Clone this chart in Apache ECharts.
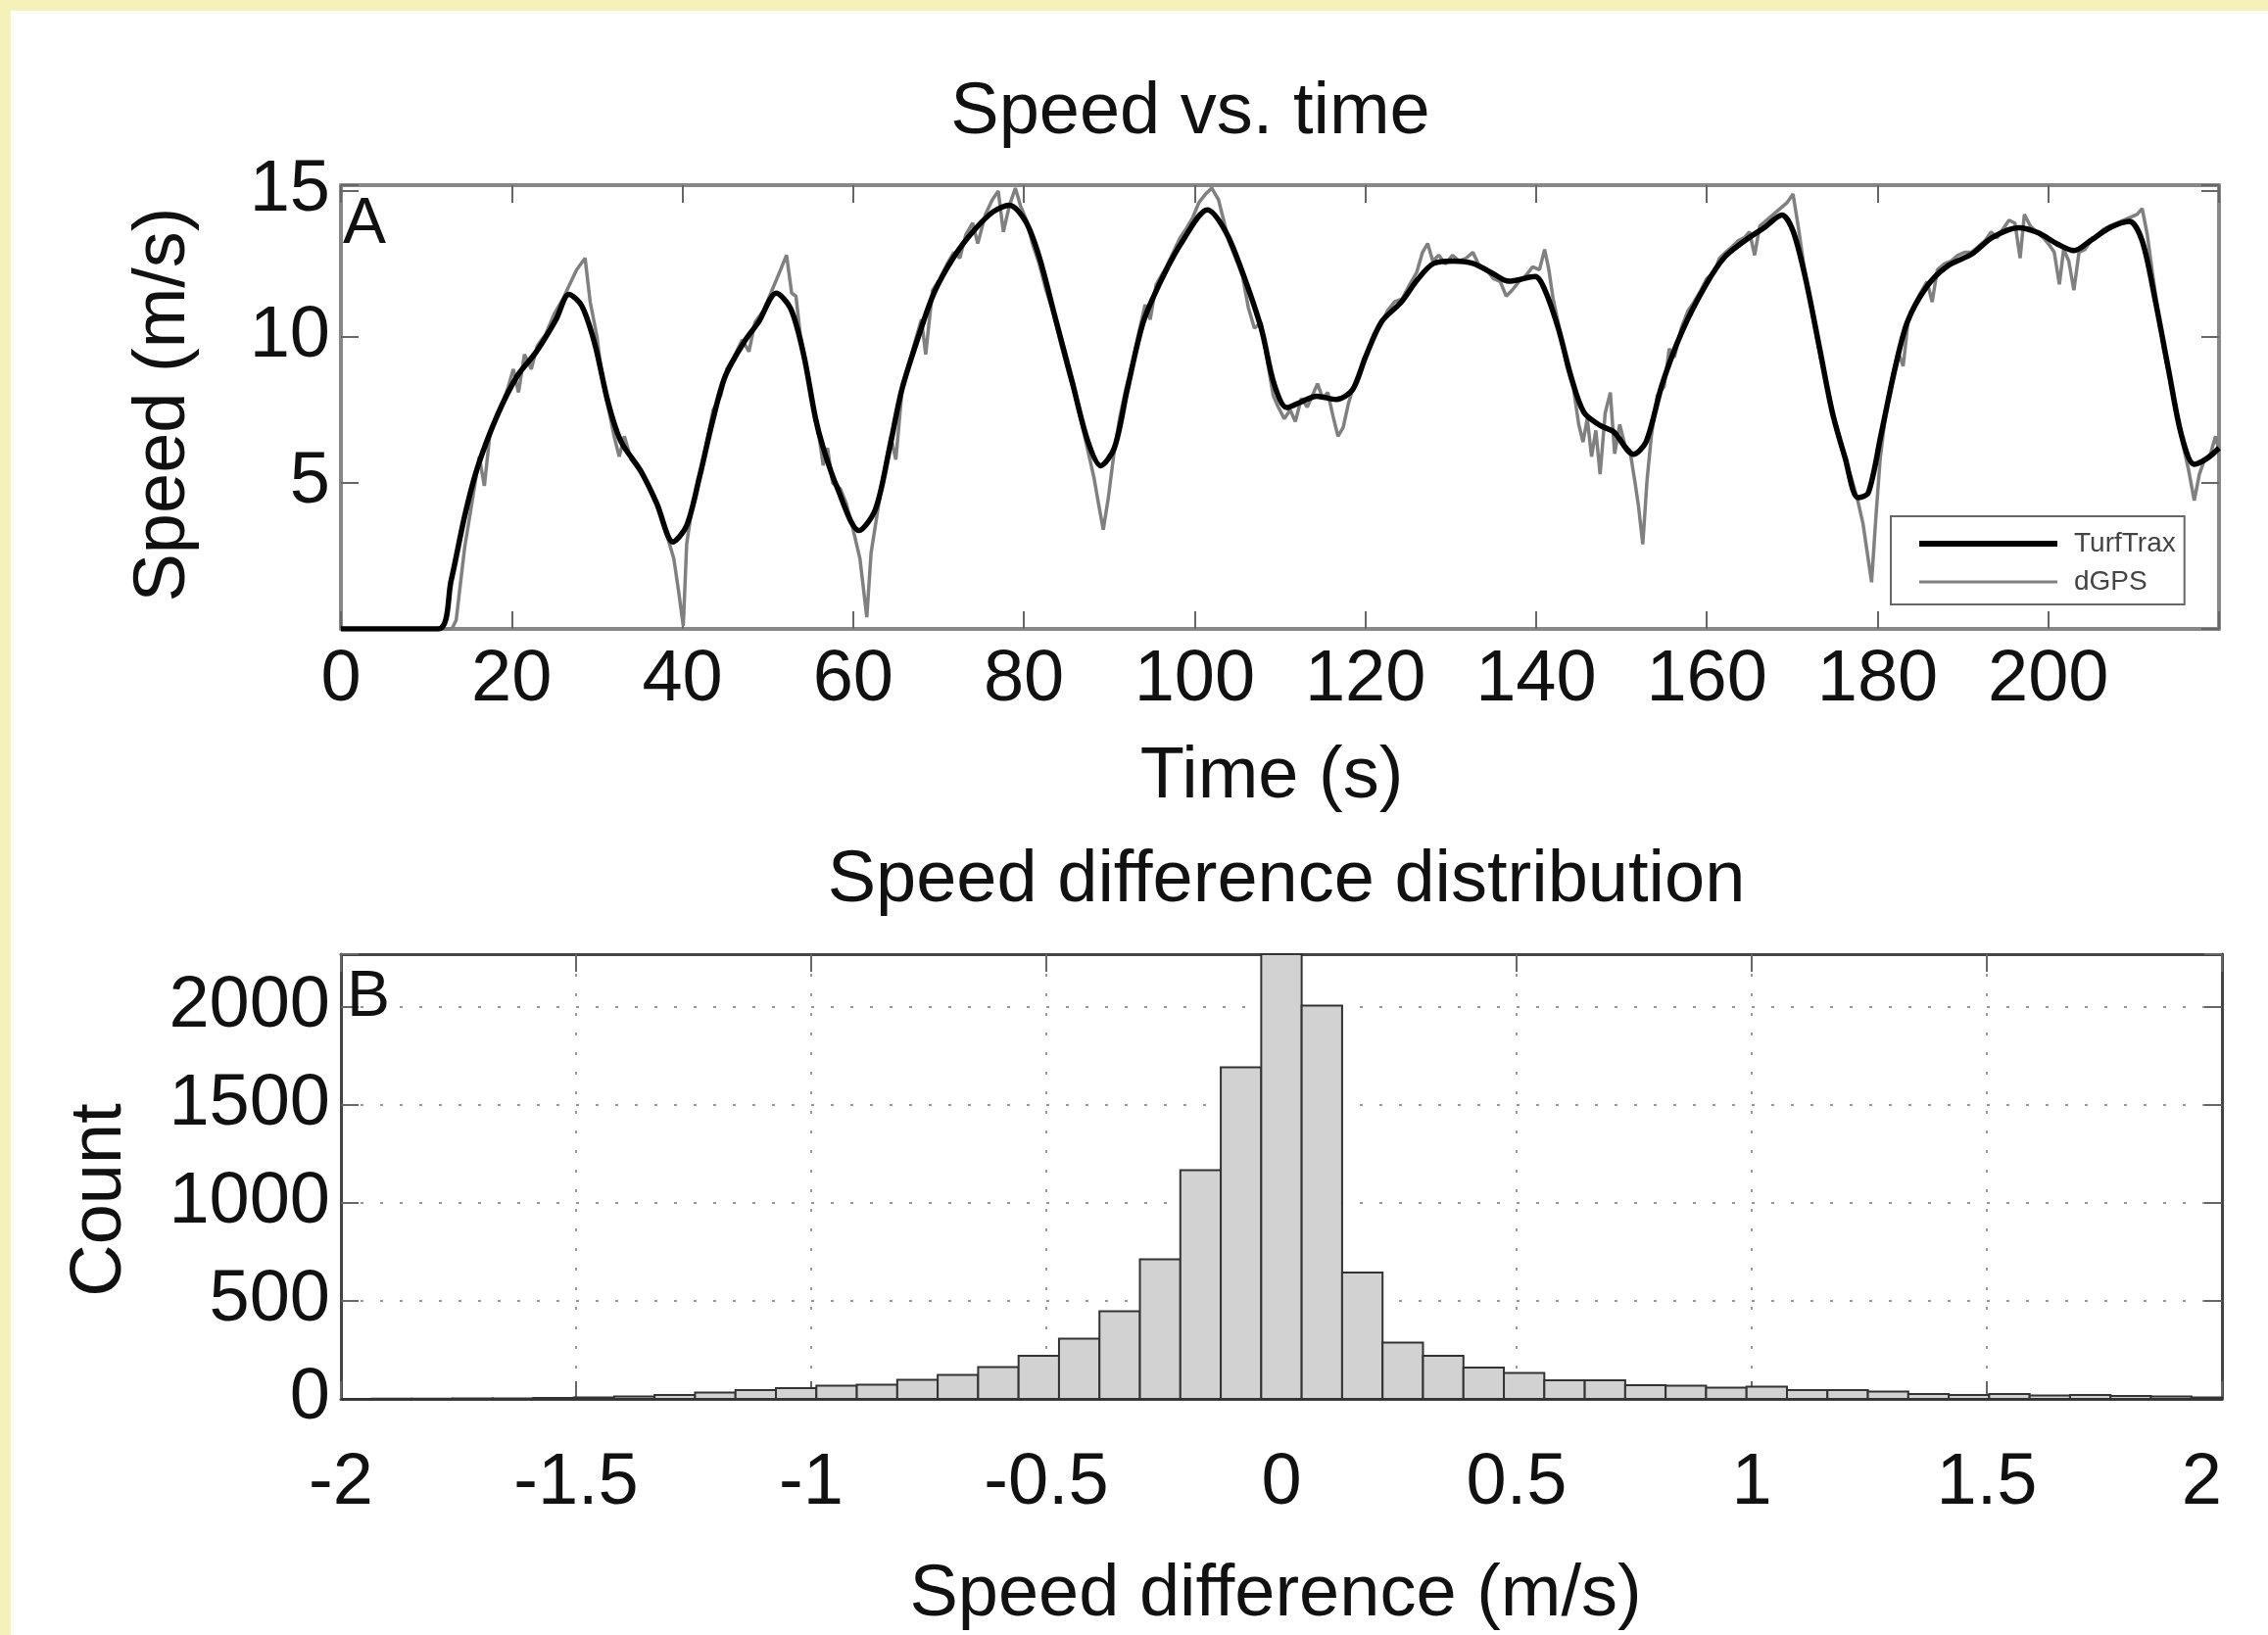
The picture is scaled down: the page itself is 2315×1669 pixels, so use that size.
<!DOCTYPE html>
<html>
<head>
<meta charset="utf-8">
<script src="https://cdn.jsdelivr.net/npm/echarts@6/dist/echarts.min.js"></script>
<style>
  html, body { margin: 0; padding: 0; background: #ffffff; }
  #chart { width: 2315px; height: 1669px; }
</style>
</head>
<body>
<div id="chart"></div>
<script>
// ---------- DATA ----------
// Panel A: TurfTrax speed (smooth), [time s, speed m/s]
const turfTrax = [
  [0,0],[11.4,0],[12.9,1.65],[14.5,3.87],[16.0,5.53],[18.3,7.3],[20.6,8.64],[22.9,9.5],[25.2,10.6],[26.7,11.46],
  [28.2,11.07],[29.75,9.75],[31.3,7.75],[32.8,6.42],[35.1,5.42],[37.0,4.3],[38.9,2.98],[40.5,3.54],[42.0,5.2],[43.5,7.08],
  [45.0,8.64],[47.3,9.86],[48.9,10.5],[51.0,11.5],[52.7,10.96],[54.2,9.4],[55.6,7.2],[56.5,6.2],[58.05,4.9],[60.7,3.37],
  [62.6,4.09],[64.2,6.09],[65.7,8.19],[67.6,9.97],[69.5,11.52],[71.8,12.74],[74.1,13.63],[76.4,14.29],[78.3,14.51],[80.2,13.96],
  [81.8,12.74],[83.7,10.63],[85.6,8.53],[87.5,6.42],[89.0,5.59],[90.6,6.2],[92.1,8.19],[94.0,10.52],[96.3,12.07],[98.6,13.29],
  [101.5,14.35],[103.6,13.63],[105.5,12.3],[107.8,10.3],[109.3,8.4],[110.8,7.58],[112.3,7.75],[114.3,7.97],[116.6,7.86],[118.5,8.19],
  [120.0,9.3],[121.9,10.52],[124.2,11.19],[126.1,11.96],[128.0,12.52],[130.3,12.6],[132.6,12.52],[134.9,12.18],[136.8,11.91],[139.9,12.07],
  [141.0,11.63],[142.6,10.3],[144.1,8.64],[145.6,7.42],[147.5,6.97],[149.1,6.75],[151.4,5.98],[152.9,6.42],[154.8,8.41],[157.1,10.19],
  [159.8,11.74],[162.1,12.74],[164.4,13.29],[166.7,13.74],[168.8,14.18],[170.1,13.63],[171.6,11.96],[173.2,9.63],[174.7,7.42],[176.2,5.86],
  [177.7,4.5],[178.9,4.65],[180.4,6.64],[182.0,8.86],[183.5,10.52],[185.8,11.74],[188.1,12.41],[191.1,12.85],[193.4,13.4],[196.5,13.74],
  [198.8,13.57],[201.1,13.18],[203.0,12.96],[204.9,13.29],[207.2,13.74],[209.5,13.96],[211.0,13.29],[212.5,11.3],[214.1,8.86],[215.6,6.64],
  [217.1,5.64],[218.7,5.86],[220,6.2]
];
// Panel A: dGPS speed (noisy), [time s, speed m/s]
const dGPS = [
  [0,0],[13,0],[13.5,0.3],[14.5,2.8],[15.5,4.6],[16.2,5.9],[16.8,4.9],[17.5,6.8],[18.5,7.4],[19.5,8.2],[20.2,8.9],[20.8,8.1],
  [21.5,9.4],[22.3,8.9],[23,9.7],[24,10.1],[25,10.8],[26,11.3],[26.8,11.8],[27.6,12.3],[28.6,12.7],[29.2,11.2],[30,10.0],
  [30.6,8.6],[31.3,7.6],[32,6.6],[32.6,5.9],[33.2,6.6],[34,5.8],[35,5.4],[36,4.9],[37,4.2],[38,3.4],[39,2.4],[39.6,1.2],
  [40.1,0.1],[40.5,2.9],[41.2,4.3],[42,5.1],[43,6.6],[43.6,7.5],[44.5,8.0],[45.2,8.9],[46,9.3],[47,9.9],[47.8,9.5],[48.5,10.5],
  [49.5,10.9],[50.5,11.6],[51.5,12.3],[52.2,12.8],[52.8,11.5],[53.3,11.4],[53.8,10.1],[54.6,8.9],[55.3,7.6],[56,6.6],[56.5,5.6],
  [57,6.2],[57.6,5.0],[58.5,4.8],[59.2,4.3],[60,3.4],[60.8,2.4],[61.6,0.4],[62.1,2.6],[62.8,3.9],[63.5,5.2],[64.4,6.6],[65,5.8],
  [65.8,8.4],[66.5,9.0],[67.2,9.8],[68,10.6],[68.5,9.4],[69.3,11.6],[70.2,12.0],[71,12.5],[71.8,12.9],[72.5,12.7],[73.2,13.5],
  [74,13.9],[74.6,13.2],[75.5,14.2],[76.3,14.7],[77,15.0],[77.6,13.6],[78.3,14.5],[79,15.1],[79.6,14.5],[80.3,14.0],[81,13.2],
  [81.8,12.5],[82.6,11.6],[83.5,10.8],[84.3,9.8],[85.2,8.8],[86.0,8.0],[86.8,7.0],[87.5,6.1],[88.2,5.2],[88.8,4.2],[89.3,3.4],
  [89.9,4.5],[90.5,5.9],[91.2,7.2],[92,8.3],[92.8,9.2],[93.5,10.2],[94.2,11.1],[94.8,10.6],[95.5,11.8],[96.5,12.3],[97.5,12.9],
  [98.3,13.4],[99,13.7],[99.8,14.1],[100.5,14.6],[101.3,14.9],[102,15.1],[102.8,14.7],[103.4,14.0],[104,13.3],[104.8,12.7],
  [105.6,12.1],[106.3,11.0],[107,10.3],[107.8,10.5],[108.5,9.2],[109.2,8.0],[109.8,7.6],[110.5,7.2],[111.2,7.5],[111.8,7.1],
  [112.5,7.9],[113.2,7.6],[113.8,8.0],[114.4,8.4],[115,7.9],[115.6,8.1],[116.2,7.3],[116.8,6.6],[117.4,6.9],[118,7.7],[118.6,8.3],
  [119.4,8.9],[120.2,9.4],[121,10.1],[121.8,10.4],[122.6,10.9],[123.4,11.2],[124.3,11.3],[125.2,11.8],[126,12.2],[126.7,12.9],
  [127.3,13.2],[127.9,12.6],[128.6,12.8],[129.4,12.5],[130.2,12.8],[131,12.6],[131.8,12.7],[132.6,12.9],[133.4,12.4],[134.2,12.3],
  [135,12.0],[135.8,11.9],[136.5,11.4],[137.2,11.6],[138,11.9],[138.8,12.1],[139.6,12.4],[140.4,12.3],[141,13.0],[141.5,12.3],
  [142,11.3],[142.8,10.2],[143.6,9.0],[144.4,8.2],[145,7.0],[145.5,6.4],[146,7.2],[146.5,5.9],[147,6.8],[147.5,5.3],[148.1,7.4],
  [148.7,8.1],[149.2,6.0],[149.8,7.0],[150.4,6.3],[151,6.1],[151.6,5.0],[152,4.2],[152.5,2.9],[153,5.1],[153.5,6.6],[154.2,8.0],
  [155,8.3],[155.6,9.6],[156.2,9.3],[157,10.3],[157.8,10.9],[158.5,11.2],[159.3,11.6],[160,12.0],[160.8,12.2],[161.5,12.7],
  [162.2,12.9],[163,13.1],[163.7,13.3],[164.4,13.4],[165,13.6],[165.6,12.8],[166.2,13.8],[167,14.0],[167.8,14.2],[168.6,14.4],
  [169.4,14.6],[170.1,14.9],[170.7,13.8],[171.3,12.6],[171.9,11.5],[172.6,10.4],[173.3,9.3],[174,8.4],[174.8,7.4],[175.5,6.6],
  [176.2,5.8],[176.9,5.2],[177.6,4.5],[178.3,3.6],[178.8,2.6],[179.3,1.6],[179.8,3.8],[180.3,5.8],[181,7.5],[181.7,8.6],
  [182.4,9.5],[183,9.0],[183.6,10.6],[184.3,11.1],[185,11.5],[185.8,11.9],[186.4,11.2],[187,12.3],[187.8,12.5],[188.6,12.6],
  [189.4,12.8],[190.2,12.9],[191,12.9],[191.8,13.1],[192.6,13.3],[193.3,13.6],[194,13.4],[194.7,13.7],[195.4,14.0],[196.1,13.9],
  [196.7,12.7],[197.2,14.2],[197.9,13.8],[198.6,13.6],[199.4,13.4],[200,13.2],[200.7,12.9],[201.3,11.8],[201.8,13.0],[202.4,12.6],
  [203,11.6],[203.6,12.9],[204.3,13.0],[205,13.3],[205.8,13.5],[206.5,13.7],[207.2,13.8],[208,13.9],[208.8,14.0],[209.6,14.1],
  [210.4,14.2],[211,14.4],[211.6,13.5],[212.2,12.2],[212.8,11.0],[213.5,9.6],[214.2,8.6],[215,7.4],[215.7,6.4],[216.4,5.5],
  [217.1,4.4],[217.7,5.3],[218.3,5.8],[219,6.0],[219.6,6.6],[220,6.1]
];
// Panel B: histogram of speed difference
const binWidth = 0.086;
const binCenters = [
  -1.978,-1.892,-1.806,-1.720,-1.634,-1.548,-1.462,-1.376,-1.290,-1.204,-1.118,-1.032,
  -0.946,-0.860,-0.774,-0.688,-0.602,-0.516,-0.430,-0.344,-0.258,-0.172,-0.086,0,
  0.086,0.172,0.258,0.344,0.430,0.516,0.602,0.688,0.774,0.860,0.946,1.032,
  1.118,1.204,1.290,1.376,1.462,1.548,1.634,1.720,1.806,1.892,1.978
];
const binCounts = [
  0,1,1,2,3,5,8,12,20,32,45,55,
  68,73,98,123,162,220,307,448,712,1167,1692,2270,
  2007,645,287,220,160,133,95,95,70,67,57,62,
  45,45,37,25,20,25,17,20,15,12,7
];
const titles = ['Speed vs. time', 'Speed difference distribution'];
const xNames = ['Time (s)', 'Speed difference (m/s)'];
const yNames = ['Speed (m/s)', 'Count'];
const panelLabels = ['A', 'B'];
const seriesNames = ['TurfTrax', 'dGPS'];

// ---------- CHART ----------
const FONT = '"Liberation Sans", Arial, Helvetica, sans-serif';
const FS = 74;
const chart = echarts.init(document.getElementById('chart'), null, {renderer: 'canvas'});

const histData = binCenters.map((c, i) => [c, binCounts[i]]);

function frameAxis(extra) {
  return Object.assign({
    type: 'value',
    axisLine: {show: true, onZero: false, lineStyle: {color: '#888', width: 4}},
    axisTick: {show: true, inside: true, length: 18, lineStyle: {color: '#666', width: 2}},
    axisLabel: {show: false},
    splitLine: {show: false}
  }, extra);
}
const lblA = {fontSize: FS, fontFamily: FONT, color: '#111'};

const option = {
  animation: false,
  backgroundColor: '#ffffff',
  grid: [
    {left: 348, top: 189, width: 1917, height: 453},
    {left: 348, top: 974, width: 1920, height: 454}
  ],
  xAxis: [
    frameAxis({gridIndex: 0, min: 0, max: 220, interval: 20, position: 'bottom',
      axisLabel: Object.assign({show: true, margin: 16, formatter: v => (v % 20 === 0 && v <= 200) ? String(v) : ''}, lblA)}),
    frameAxis({gridIndex: 0, min: 0, max: 220, interval: 20, position: 'top'}),
    frameAxis({gridIndex: 1, min: -2, max: 2, interval: 0.5, position: 'bottom',
      axisLine: {show: true, onZero: false, lineStyle: {color: '#444', width: 3}},
      axisLabel: Object.assign({show: true, margin: 50, alignMaxLabel: 'right'}, lblA),
      splitLine: {show: true, lineStyle: {color: '#9a9a9a', width: 2, type: [3, 17]}}}),
    frameAxis({gridIndex: 1, min: -2, max: 2, interval: 0.5, position: 'top',
      axisLine: {show: true, onZero: false, lineStyle: {color: '#444', width: 3}}})
  ],
  yAxis: [
    frameAxis({gridIndex: 0, min: 0, max: 15.2, interval: 5, position: 'left',
      axisLabel: Object.assign({show: true, margin: 11, formatter: v => (v > 0 && v % 5 === 0) ? String(v) : ''}, lblA)}),
    frameAxis({gridIndex: 0, min: 0, max: 15.2, interval: 5, position: 'right'}),
    frameAxis({gridIndex: 1, min: 0, max: 2270, interval: 500, position: 'left',
      axisLine: {show: true, onZero: false, lineStyle: {color: '#444', width: 3}},
      axisLabel: Object.assign({show: true, margin: 11, formatter: v => (v % 500 === 0) ? String(v) : ''}, lblA),
      splitLine: {show: true, lineStyle: {color: '#9a9a9a', width: 2, type: [3, 17]}}}),
    frameAxis({gridIndex: 1, min: 0, max: 2270, interval: 500, position: 'right',
      axisLine: {show: true, onZero: false, lineStyle: {color: '#444', width: 3}}})
  ],
  legend: {
    data: [
      {name: seriesNames[0], itemStyle: {opacity: 0}, lineStyle: {color: '#000', width: 6}},
      {name: seriesNames[1], itemStyle: {opacity: 0}, lineStyle: {color: '#808080', width: 3}}
    ],
    orient: 'vertical',
    left: 1930, top: 527,
    padding: [14, 9, 9, 26],
    itemGap: 11,
    itemWidth: 141, itemHeight: 14,
    backgroundColor: '#ffffff',
    borderColor: '#666', borderWidth: 2,
    selectedMode: false,
    textStyle: {fontSize: 28, fontFamily: FONT, color: '#444', padding: [0, 0, 0, 12]}
  },
  series: [
    {
      name: seriesNames[1], type: 'line', xAxisIndex: 0, yAxisIndex: 0,
      data: dGPS, symbol: 'none', z: 2,
      lineStyle: {color: '#808080', width: 3.5}, itemStyle: {color: '#808080'}
    },
    {
      name: seriesNames[0], type: 'line', xAxisIndex: 0, yAxisIndex: 0,
      data: turfTrax, symbol: 'none', smooth: 0.3, z: 3,
      lineStyle: {color: '#000000', width: 5.5}, itemStyle: {color: '#000000'}
    },
    {
      type: 'custom', xAxisIndex: 2, yAxisIndex: 2, data: histData, z: 2,
      renderItem: function (params, api) {
        const c = api.value(0), v = api.value(1);
        const p0 = api.coord([c - binWidth / 2, v]);
        const p1 = api.coord([c + binWidth / 2, 0]);
        const rect = echarts.graphic.clipRectByRect(
          {x: p0[0], y: p0[1], width: p1[0] - p0[0], height: p1[1] - p0[1]},
          {x: params.coordSys.x, y: params.coordSys.y, width: params.coordSys.width, height: params.coordSys.height});
        if (!rect) return null;
        return {type: 'rect', shape: rect, style: {fill: '#d2d2d2', stroke: '#333', lineWidth: 2}};
      }
    }
  ],
  graphic: [
    {type: 'rect', left: 0, top: 0, shape: {width: 2315, height: 11}, style: {fill: '#f4f1bb'}, z: 100},
    {type: 'rect', left: 0, top: 0, shape: {width: 11, height: 1669}, style: {fill: '#f4f1bb'}, z: 100},
    {type: 'text', x: 1215, y: 116, style: {text: titles[0], font: FS + 'px ' + FONT, fill: '#111', align: 'center', verticalAlign: 'middle'}},
    {type: 'text', x: 1313, y: 900, style: {text: titles[1], font: FS + 'px ' + FONT, fill: '#111', align: 'center', verticalAlign: 'middle'}},
    {type: 'text', x: 1298, y: 794, style: {text: xNames[0], font: FS + 'px ' + FONT, fill: '#111', align: 'center', verticalAlign: 'middle'}},
    {type: 'text', x: 1302, y: 1629, style: {text: xNames[1], font: FS + 'px ' + FONT, fill: '#111', align: 'center', verticalAlign: 'middle'}},
    {type: 'text', x: 168, y: 413, rotation: Math.PI / 2, style: {text: yNames[0], font: FS + 'px ' + FONT, fill: '#111', align: 'center', verticalAlign: 'middle'}},
    {type: 'text', x: 103, y: 1225, rotation: Math.PI / 2, style: {text: yNames[1], font: FS + 'px ' + FONT, fill: '#111', align: 'center', verticalAlign: 'middle'}},
    {type: 'text', x: 350, y: 230, z: 50, style: {text: panelLabels[0], font: '66px ' + FONT, fill: '#111', align: 'left', verticalAlign: 'middle'}},
    {type: 'text', x: 354, y: 1019, z: 50, style: {text: panelLabels[1], font: '66px ' + FONT, fill: '#111', align: 'left', verticalAlign: 'middle'}}
  ]
};
chart.setOption(option);
</script>
</body>
</html>
